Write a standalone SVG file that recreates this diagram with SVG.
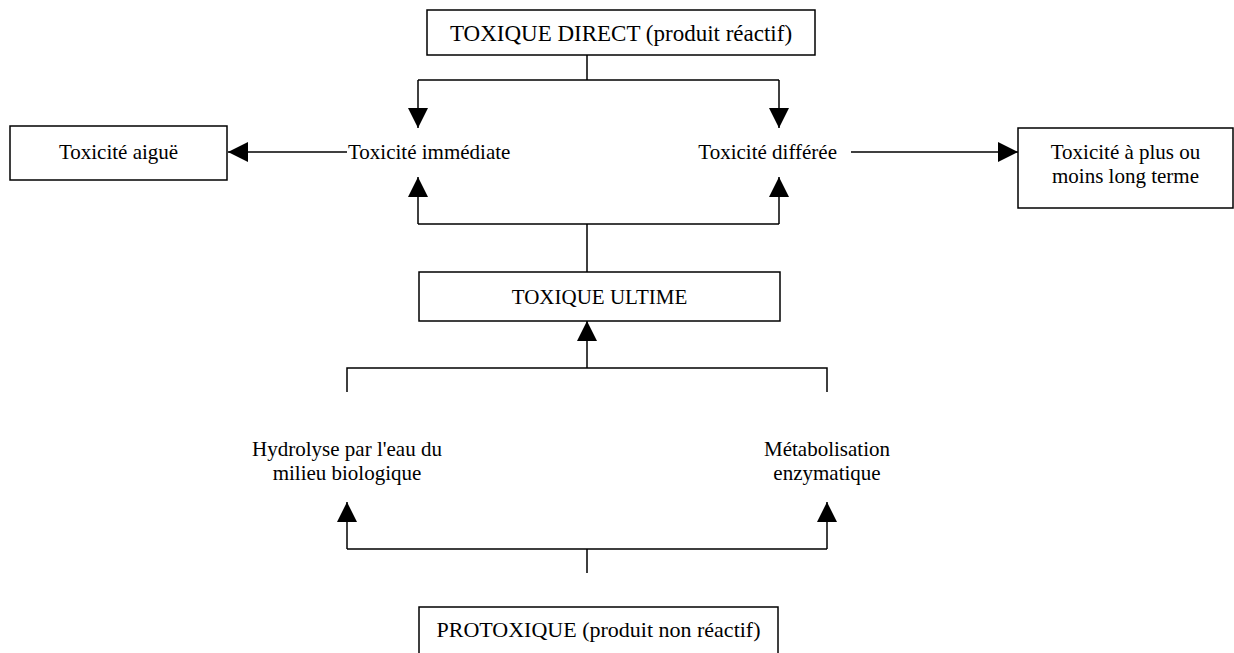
<svg xmlns="http://www.w3.org/2000/svg" width="1234" height="653" viewBox="0 0 1234 653">
<defs>
<style>
.box{fill:#fff;stroke:#000;stroke-width:1.5}
.t{font-family:"Liberation Serif","Times New Roman",serif;font-size:21px;fill:#000}
.m{text-anchor:middle}
.c{fill:none;stroke:#000;stroke-width:1.5}
</style>
<marker id="ah" markerUnits="userSpaceOnUse" markerWidth="20" markerHeight="20" refX="20" refY="10" orient="auto">
<path d="M0,0 L20,10 L0,20 z" fill="#000"/>
</marker>
</defs>
<rect width="1234" height="653" fill="#fff"/>
<g id="connectors">
<path class="c" d="M587,55 V80 M418,80 H779"/>
<path class="c" d="M418,80 V128" marker-end="url(#ah)"/>
<path class="c" d="M779,80 V128" marker-end="url(#ah)"/>
<path class="c" d="M347,152 H228" marker-end="url(#ah)"/>
<path class="c" d="M851,152 H1018" marker-end="url(#ah)"/>
<path class="c" d="M587,272 V224 M418,224 H779"/>
<path class="c" d="M418,224 V177" marker-end="url(#ah)"/>
<path class="c" d="M779,224 V177" marker-end="url(#ah)"/>
<path class="c" d="M587,368 V321" marker-end="url(#ah)"/>
<path class="c" d="M347,392 V368 H827 V392"/>
<path class="c" d="M587,573 V549 M347,549 H827"/>
<path class="c" d="M347,549 V502" marker-end="url(#ah)"/>
<path class="c" d="M827,549 V502" marker-end="url(#ah)"/>
</g>
<g id="toxique-direct">
<rect class="box" x="427" y="10" width="388" height="45"/>
<text class="t m" x="621" y="41" style="font-size:23px">TOXIQUE DIRECT (produit réactif)</text>
</g>
<g id="toxicite-aigue">
<rect class="box" x="10" y="126" width="217" height="54"/>
<text class="t m" x="118.5" y="159">Toxicité aiguë</text>
</g>
<g id="toxicite-immediate">
<text class="t" x="348" y="159">Toxicité immédiate</text>
</g>
<g id="toxicite-differee">
<text class="t" x="837" y="159" text-anchor="end">Toxicité différée</text>
</g>
<g id="toxicite-long-terme">
<rect class="box" x="1018" y="128" width="215" height="80"/>
<text class="t m" x="1125.5" y="159">Toxicité à plus ou</text>
<text class="t m" x="1125.5" y="183">moins long terme</text>
</g>
<g id="toxique-ultime">
<rect class="box" x="419" y="272" width="361" height="49"/>
<text class="t m" x="599.5" y="304">TOXIQUE ULTIME</text>
</g>
<g id="hydrolyse">
<text class="t m" x="347" y="456">Hydrolyse par l'eau du</text>
<text class="t m" x="347" y="480">milieu biologique</text>
</g>
<g id="metabolisation">
<text class="t m" x="827" y="456">Métabolisation</text>
<text class="t m" x="827" y="480">enzymatique</text>
</g>
<g id="protoxique">
<rect class="box" x="419" y="607" width="359" height="48"/>
<text class="t m" x="598.5" y="637" style="font-size:22px">PROTOXIQUE (produit non réactif)</text>
</g>
</svg>
